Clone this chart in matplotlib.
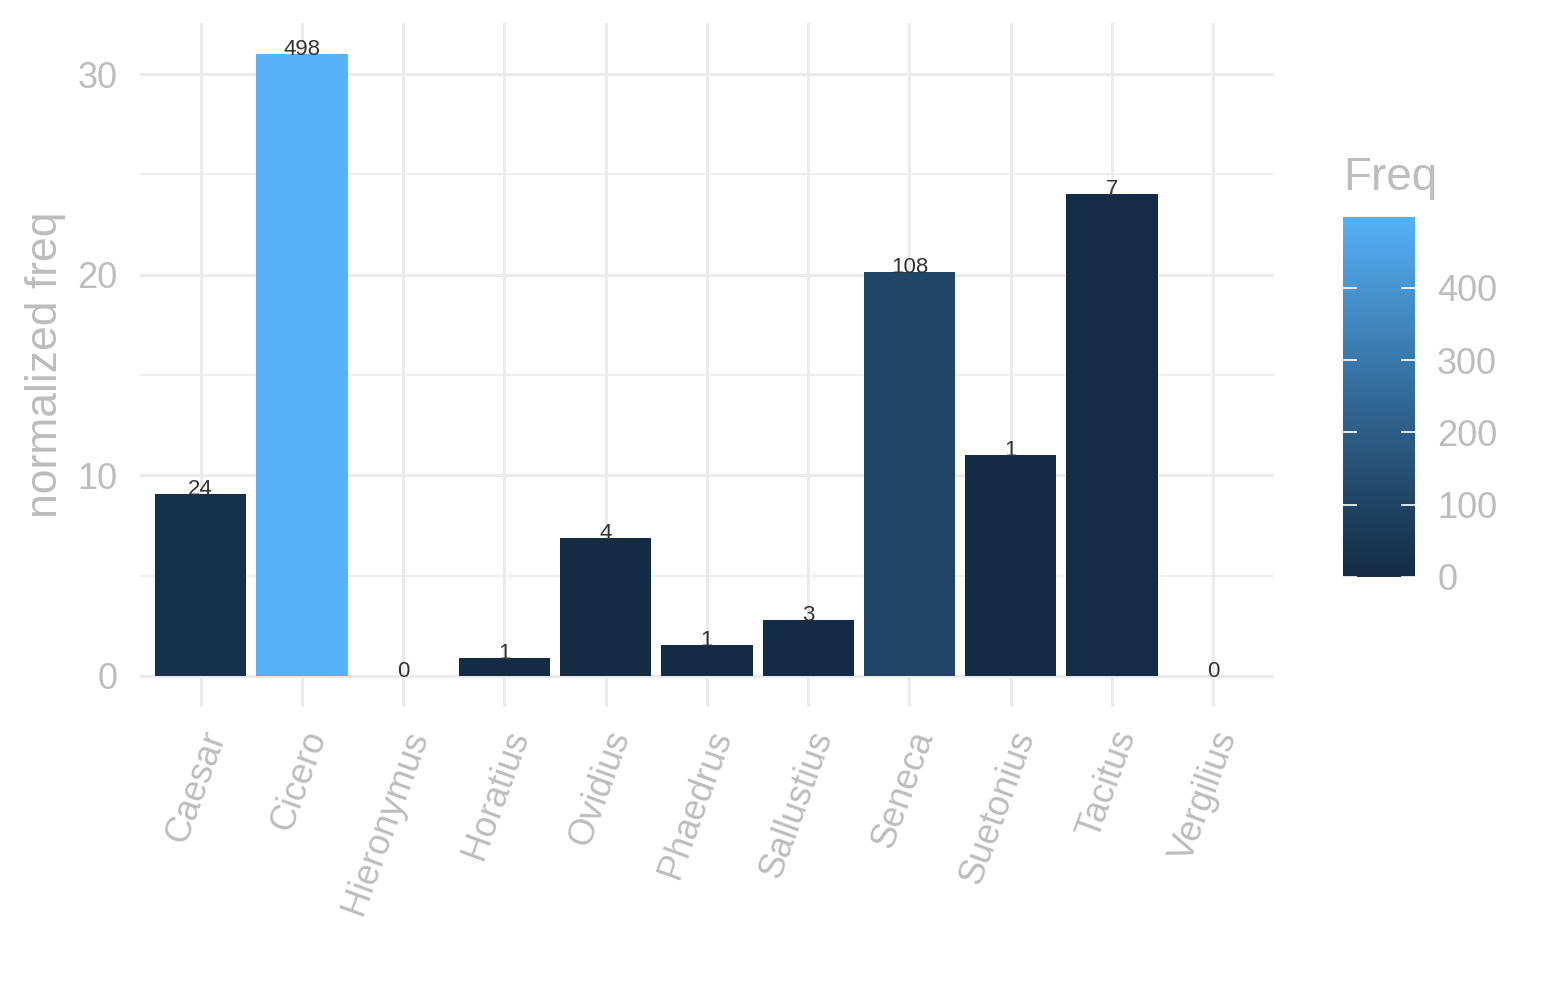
import numpy as np
import matplotlib
matplotlib.use("Agg")
import matplotlib.pyplot as plt
from matplotlib.colors import ListedColormap, Normalize, to_rgb
import matplotlib.transforms as mtransforms

plt.rcParams['font.family'] = ['Liberation Sans', 'DejaVu Sans']

authors = ['Caesar', 'Cicero', 'Hieronymus', 'Horatius', 'Ovidius', 'Phaedrus',
           'Sallustius', 'Seneca', 'Suetonius', 'Tacitus', 'Vergilius']
norm_freq = [9.07, 31.0, 0.0, 0.90, 6.88, 1.54, 2.79, 20.13, 11.01, 24.02, 0.0]
freq = [24, 498, 0, 1, 4, 1, 3, 108, 1, 7, 0]

grid_col = '#EBEBEB'
text_col = '#BDBDBD'


# ggplot style gradient: interpolate in CIELAB
def srgb_to_lab(c):
    c = np.asarray(c, dtype=float)
    lin = np.where(c <= 0.04045, c / 12.92, ((c + 0.055) / 1.055) ** 2.4)
    m = np.array([[0.4124, 0.3576, 0.1805],
                  [0.2126, 0.7152, 0.0722],
                  [0.0193, 0.1192, 0.9505]])
    xyz = m @ lin / np.array([0.95047, 1.0, 1.08883])
    f = np.where(xyz > 0.008856, np.cbrt(xyz), 7.787 * xyz + 16 / 116)
    return np.array([116 * f[1] - 16, 500 * (f[0] - f[1]), 200 * (f[1] - f[2])])


def lab_to_srgb(lab):
    L, a, b = lab
    fy = (L + 16) / 116
    fx = fy + a / 500
    fz = fy - b / 200
    f = np.array([fx, fy, fz])
    xyz = np.where(f ** 3 > 0.008856, f ** 3, (f - 16 / 116) / 7.787)
    xyz = xyz * np.array([0.95047, 1.0, 1.08883])
    minv = np.array([[3.2406, -1.5372, -0.4986],
                     [-0.9689, 1.8758, 0.0415],
                     [0.0557, -0.2040, 1.0570]])
    lin = minv @ xyz
    c = np.where(lin <= 0.0031308, 12.92 * lin, 1.055 * np.clip(lin, 0, None) ** (1 / 2.4) - 0.055)
    return np.clip(c, 0, 1)


lo = srgb_to_lab(to_rgb('#132B43'))
hi = srgb_to_lab(to_rgb('#56B1F7'))
cmap = ListedColormap([lab_to_srgb(lo + (hi - lo) * t) for t in np.linspace(0, 1, 256)])
norm = Normalize(vmin=min(freq), vmax=max(freq))

fig = plt.figure(figsize=(15.45, 10), dpi=100)
ax = fig.add_axes([0.0906, 0.293, 0.734, 0.684])

x = np.arange(len(authors))
ax.bar(x, norm_freq, width=0.9, color=cmap(norm(freq)), zorder=3)
for xi, yi, f in zip(x, norm_freq, freq):
    ax.text(xi, yi - 0.05, str(f), ha='center', va='baseline', fontsize=16,
            color='#333333', zorder=4)

ax.set_xlim(-0.6, len(authors) - 0.4)
ax.set_ylim(-1.55, 32.55)
ax.set_yticks([0, 10, 20, 30])
ax.set_yticks([5, 15, 25], minor=True)
ax.set_xticks(x)
ax.grid(True, which='major', color=grid_col, linewidth=2.2, zorder=0)
ax.grid(True, which='minor', axis='y', color=grid_col, linewidth=1.2, zorder=0)
ax.tick_params(which='both', length=0)
ax.tick_params(axis='y', labelsize=26, labelcolor=text_col, pad=16)
for s in ax.spines.values():
    s.set_visible(False)

ax.set_xticklabels(authors, rotation=70, ha='right', va='center',
                   rotation_mode='anchor', fontsize=26, color=text_col)
offset = mtransforms.ScaledTranslation(0.15, -0.2, fig.dpi_scale_trans)
for lbl in ax.get_xticklabels():
    lbl.set_transform(lbl.get_transform() + offset)

ax.set_ylabel('normalized freq', fontsize=32, color=text_col, labelpad=8)

cax = fig.add_axes([0.8692, 0.423, 0.0466, 0.36])
sm = matplotlib.cm.ScalarMappable(norm=norm, cmap=cmap)
cbar = fig.colorbar(sm, cax=cax, ticks=[0, 100, 200, 300, 400])
cbar.outline.set_visible(False)
cax.tick_params(direction='in', left=True, right=True, color='white',
                length=10, width=1.2, labelsize=26, labelcolor=text_col, pad=16)
fig.text(0.8692, 0.80, 'Freq', fontsize=33, color=text_col, ha='left', va='bottom')

fig.savefig('out.png', dpi=100, facecolor='white')
